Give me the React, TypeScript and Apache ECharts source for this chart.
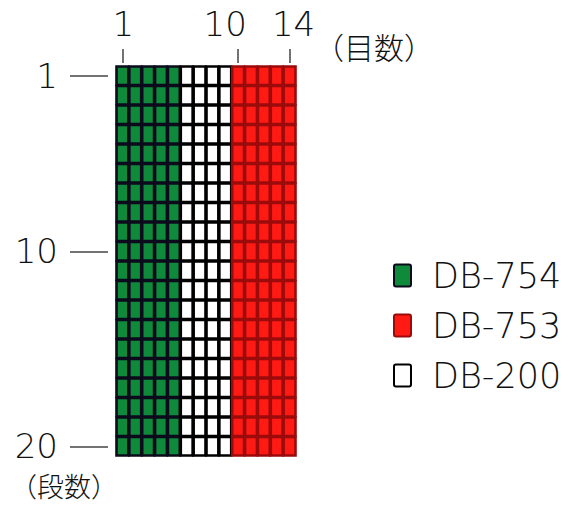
import React, { useEffect, useRef } from "react";
import * as echarts from "echarts";

// 目数 (stitches / columns) and 段数 (rows)
const columns = ["1", "2", "3", "4", "5", "6", "7", "8", "9", "10", "11", "12", "13", "14"];
const rows = ["1", "2", "3", "4", "5", "6", "7", "8", "9", "10", "11", "12", "13", "14", "15", "16", "17", "18", "19", "20"];
// yarn used in each column
const columnYarns = [
  "DB-754", "DB-754", "DB-754", "DB-754", "DB-754",
  "DB-200", "DB-200", "DB-200", "DB-200",
  "DB-753", "DB-753", "DB-753", "DB-753", "DB-753",
];
const yarns = ["DB-754", "DB-753", "DB-200"];
const xTickLabels = ["1", "10", "14"];
const yTickLabels = ["1", "10", "20"];

const yarnStyle: Record<string, { fill: string; stroke: string }> = {
  "DB-754": { fill: "#0f8a3b", stroke: "#0b0b1c" },
  "DB-753": { fill: "#ff1a14", stroke: "#9c0b0b" },
  "DB-200": { fill: "#ffffff", stroke: "#000000" },
};

const drawOrder = ["DB-754", "DB-200", "DB-753"];
const FONT = "DejaVu Sans";
const CJK = "Noto Sans CJK JP";

export default function App() {
  const ref = useRef<HTMLDivElement>(null);
  useEffect(() => {
    if (!ref.current) return;
    const chart = echarts.init(ref.current, undefined, { renderer: "svg" });
    const series = drawOrder.map((yarn) => {
      const data: number[][] = [];
      columnYarns.forEach((y, c) => {
        if (y !== yarn) return;
        rows.forEach((_, r) => data.push([c, r]));
      });
      const st = yarnStyle[yarn];
      return {
        type: "custom",
        name: yarn,
        data,
        encode: { x: 0, y: 1 },
        itemStyle: { color: st.fill, borderColor: st.stroke, borderWidth: 2 },
        renderItem: (params: any, api: any) => {
          const c = api.coord([api.value(0), api.value(1)]);
          const s = api.size([1, 1]);
          return {
            type: "rect",
            shape: { x: c[0] - s[0] / 2 + 0.5, y: c[1] - s[1] / 2 + 0.5, width: s[0] - 1, height: s[1] - 1 },
            style: { fill: st.fill, stroke: st.stroke, lineWidth: 2.6 },
          };
        },
      };
    });
    const showX = (_i: number, v: string) => xTickLabels.includes(v);
    const showY = (_i: number, v: string) => yTickLabels.includes(v);
    const labelStyle = { fontSize: 34, fontWeight: 200, color: "#111", fontFamily: FONT };
    chart.setOption({
      animation: false,
      backgroundColor: "#ffffff",
      grid: { left: 116, top: 66, width: 180, height: 390, containLabel: false },
      xAxis: {
        type: "category",
        data: columns,
        position: "top",
        offset: 3,
        axisLine: { show: false },
        axisTick: { show: true, alignWithLabel: true, length: 14, interval: showX, lineStyle: { color: "#444", width: 1.5 } },
        axisLabel: {
          interval: showX,
          margin: 22,
          ...labelStyle,
          formatter: (v: string) => (v === "10" ? `{l|${v}}` : v === "14" ? `{r|${v}}` : `{c|${v}}`),
          rich: {
            l: { ...labelStyle, padding: [0, 26, 0, 0] },
            r: { ...labelStyle, padding: [0, 0, 0, 8] },
            c: { ...labelStyle, padding: [0, 0, 0, 2] },
          },
        },
        splitLine: { show: false },
      },
      yAxis: {
        type: "category",
        data: rows,
        inverse: true,
        offset: 8,
        axisLine: { show: false },
        axisTick: { show: true, alignWithLabel: true, length: 38, interval: showY, lineStyle: { color: "#444", width: 1.5 } },
        axisLabel: { interval: showY, margin: 50, fontSize: 34, fontWeight: 200, color: "#111", fontFamily: FONT },
        splitLine: { show: false },
      },
      legend: {
        orient: "vertical",
        left: 388,
        top: 253,
        itemWidth: 17,
        itemHeight: 22,
        itemGap: 15,
        icon: "path://M2,0 H15 Q17,0 17,2 V20 Q17,22 15,22 H2 Q0,22 0,20 V2 Q0,0 2,0 Z",
        selectedMode: false,
        data: yarns.map((y) => ({
          name: y,
          itemStyle: { color: yarnStyle[y].fill, borderColor: yarnStyle[y].stroke, borderWidth: 2 },
        })),
        textStyle: { fontSize: 35, fontWeight: 200, fontFamily: FONT, color: "#111", padding: [0, 0, 0, 16], lineHeight: 22 },
      },
      graphic: [
        { type: "text", left: 314, top: 31, style: { text: "（目数）", fontSize: 30, fontWeight: 300, fontFamily: CJK, fill: "#111" } },
        { type: "text", left: 10, top: 472, style: { text: "（段数）", fontSize: 27, fontWeight: 300, fontFamily: CJK, fill: "#111" } },
      ],
      series,
    });
    return () => chart.dispose();
  }, []);
  return <div ref={ref} style={{ position: "fixed", left: 0, top: 0, width: 574, height: 505 }} />;
}
